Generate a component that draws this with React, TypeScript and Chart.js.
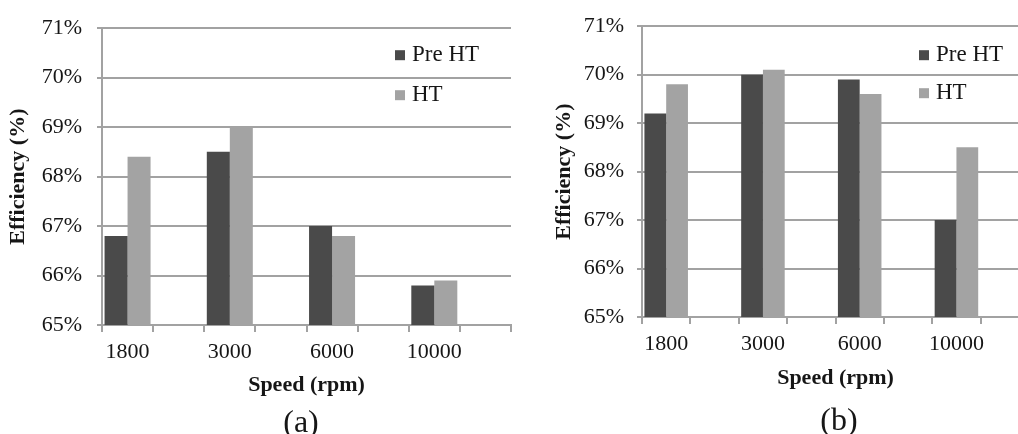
import React, { useEffect, useRef } from 'react';
import { Chart, registerables } from 'chart.js';

Chart.register(...registerables);

// ---- data ----
const speeds = ['1800', '3000', '6000', '10000'];
const seriesNames = ['Pre HT', 'HT'];
const preHtA = [66.8, 68.5, 67.0, 65.8];
const htA = [68.4, 69.0, 66.8, 65.9];
const preHtB = [69.2, 70.0, 69.9, 67.0];
const htB = [69.8, 70.1, 69.6, 68.5];
const yTickValues = [65, 66, 67, 68, 69, 70, 71];
const captions = ['(a)', '(b)'];
const xTitle = 'Speed (rpm)';
const yTitle = 'Efficiency (%)';

const seriesColors = ['#4a4a4a', '#a3a3a3'];
const gridColor = '#a2a2a2';
const textColor = '#161616';
const FONT = '"Liberation Serif", "Times New Roman", serif';

const CW = 1040;
const CH = 434;

// Excel-style layout: each speed followed by an empty slot
const slotLabels = speeds.flatMap((s) => [s, '']);
const toSlots = (vals: number[]) => vals.flatMap((v) => [v, null]);

const panelDecor = {
  id: 'panelDecor',
  afterDraw(chart: any, _args: any, opts: any) {
    const { ctx, chartArea } = chart;
    ctx.save();
    ctx.font = `${opts.legendFontSize}px ${FONT}`;
    chart.data.datasets.forEach((ds: any, i: number) => {
      const cy = chartArea.top + opts.legendTop + i * opts.legendGap;
      const bx = chartArea.right - opts.legendDx;
      ctx.fillStyle = ds.backgroundColor;
      ctx.fillRect(bx, cy - 5, 10, 10);
      ctx.fillStyle = textColor;
      ctx.textBaseline = 'alphabetic';
      ctx.textAlign = 'left';
      ctx.fillText(ds.label, bx + 17, cy + 5.5);
    });
    ctx.font = `${opts.captionFontSize}px ${FONT}`;
    ctx.textAlign = 'center';
    ctx.textBaseline = 'alphabetic';
    ctx.fillStyle = textColor;
    ctx.fillText(opts.caption, opts.captionX, opts.captionBaseline);
    ctx.restore();
  },
};

type Panel = {
  pre: number[];
  ht: number[];
  caption: string;
  areaLeft: number;
  areaRight: number;
  areaTop: number;
  areaBottom: number;
  yTitleX: number;
  xTitleY: number;
  labelPad: number;
  legendDx: number;
  legendTop: number;
  legendGap: number;
  captionX: number;
  captionBaseline: number;
};

const panels: Panel[] = [
  {
    pre: preHtA, ht: htA, caption: captions[0],
    areaLeft: 102, areaRight: 511, areaTop: 23, areaBottom: 325,
    yTitleX: 18, xTitleY: 385, labelPad: 15, legendDx: 116, legendTop: 27, legendGap: 40,
    captionX: 301, captionBaseline: 432,
  },
  {
    pre: preHtB, ht: htB, caption: captions[1],
    areaLeft: 642, areaRight: 1029, areaTop: 23, areaBottom: 317,
    yTitleX: 564, xTitleY: 378, labelPad: 13, legendDx: 110, legendTop: 29, legendGap: 38,
    captionX: 839, captionBaseline: 430,
  },
];

function ChartPanel({ p }: { p: Panel }) {
  const ref = useRef<HTMLCanvasElement | null>(null);
  useEffect(() => {
    if (!ref.current) return;
    const yAxisWidth = 102;
    const padLeft = p.areaLeft - yAxisWidth;
    const titleFontSize = 22;
    const titleHalf = (titleFontSize * 1.2) / 2;
    const chart = new Chart(ref.current, {
      type: 'bar',
      data: {
        labels: slotLabels,
        datasets: [
          { label: seriesNames[0], data: toSlots(p.pre), backgroundColor: seriesColors[0], borderWidth: 0 },
          { label: seriesNames[1], data: toSlots(p.ht), backgroundColor: seriesColors[1], borderWidth: 0 },
        ],
      },
      options: {
        animation: false,
        responsive: false,
        devicePixelRatio: 1,
        layout: { padding: { left: padLeft, right: CW - p.areaRight, top: p.areaTop, bottom: 0 } },
        datasets: { bar: { categoryPercentage: 0.9, barPercentage: 1.0, skipNull: true } },
        plugins: {
          legend: { display: false },
          tooltip: { enabled: false },
          panelDecor: {
            caption: p.caption,
            captionX: p.captionX,
            captionBaseline: p.captionBaseline,
            captionFontSize: 32,
            legendFontSize: 23,
            legendDx: p.legendDx,
            legendTop: p.legendTop,
            legendGap: p.legendGap,
          },
        } as any,
        scales: {
          x: {
            type: 'category',
            offset: true,
            afterFit: (s: any) => { s.height = CH - p.areaBottom; },
            grid: { display: true, drawOnChartArea: false, drawTicks: true, tickLength: 7, color: gridColor, lineWidth: 2, offset: true },
            border: { display: true, color: gridColor, width: 2 },
            ticks: { autoSkip: false, maxRotation: 0, minRotation: 0, padding: 7, color: textColor, font: { family: FONT, size: 22 } },
            title: {
              display: true, text: xTitle, color: textColor,
              font: { family: FONT, size: titleFontSize, weight: 'bold' },
              padding: { top: 0, bottom: CH - p.xTitleY - titleHalf },
            },
          },
          y: {
            min: yTickValues[0],
            max: yTickValues[yTickValues.length - 1],
            afterFit: (s: any) => { s.width = yAxisWidth; },
            afterBuildTicks: (s: any) => { s.ticks = yTickValues.map((v) => ({ value: v })); },
            grid: { color: gridColor, lineWidth: 2, drawTicks: true, tickLength: 5 },
            border: { display: true, color: gridColor, width: 2 },
            ticks: {
              padding: p.labelPad, color: textColor, font: { family: FONT, size: 22 },
              callback: (v: any) => `${v}%`,
            },
            title: {
              display: true, text: yTitle, color: textColor,
              font: { family: FONT, size: titleFontSize, weight: 'bold' },
              padding: { top: p.yTitleX - padLeft - titleHalf, bottom: 0 },
            },
          },
        },
      },
      plugins: [panelDecor as any],
    });
    return () => chart.destroy();
  }, [p]);
  return (
    <canvas
      ref={ref}
      width={CW}
      height={CH}
      style={{ position: 'absolute', left: 0, top: 0, width: CW, height: CH }}
    />
  );
}

export default function App() {
  return (
    <div
      style={{
        position: 'fixed', left: 0, top: 0, width: 1018, height: 434,
        overflow: 'hidden', background: '#ffffff',
      }}
    >
      {panels.map((p, i) => (
        <ChartPanel key={i} p={p} />
      ))}
    </div>
  );
}
